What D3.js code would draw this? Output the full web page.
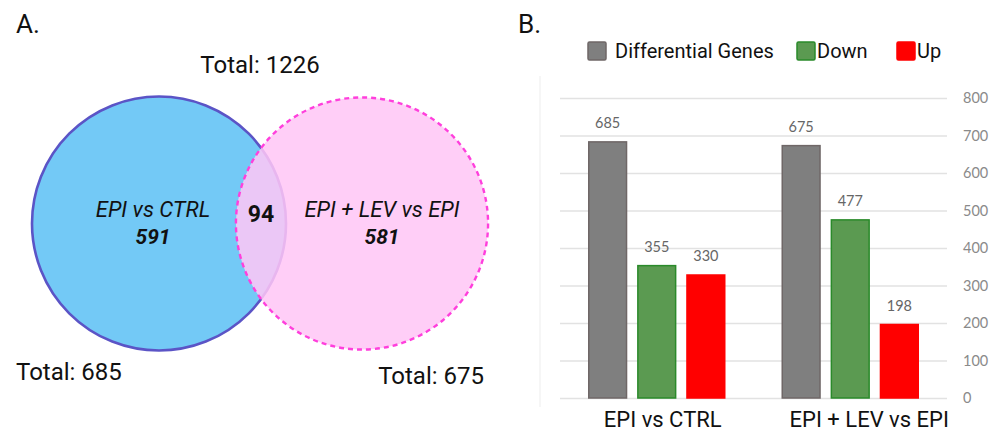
<!DOCTYPE html>
<html>
<head>
<meta charset="utf-8">
<script src="https://cdn.jsdelivr.net/npm/d3@7"></script>
<style>
  html, body { margin: 0; padding: 0; background: #fff; }
  svg { display: block; }
</style>
</head>
<body>
<svg id="fig" width="1000" height="435"></svg>
<script>
// ---- Venn panel data ----
const vennSets = ["EPI vs CTRL", "EPI + LEV vs EPI"];
const vennUnique = [591, 581];
const vennShared = 94;
const vennTotals = [685, 675];
const vennUnion = 1226;

// ---- Bar panel data ----
const categories = ["EPI vs CTRL", "EPI + LEV vs EPI"];
const seriesNames = ["Differential Genes", "Down", "Up"];
const differential = [685, 675];
const down = [355, 477];
const up = [330, 198];
const yTicks = [0, 100, 200, 300, 400, 500, 600, 700, 800];

(function () {
const svg = d3.select("#fig");
const sans = "Roboto, 'Noto Sans', sans-serif";
const calib = "Lato, 'Open Sans', sans-serif";

// ================= Panel A: Venn =================
const gA = svg.append("g");
gA.append("text").attr("x", 16).attr("y", 33).text("A.")
  .attr("font-family", sans).attr("font-size", 26).attr("fill", "#111");

// circle radius follows the set size (area-proportional)
const rScale = d3.scaleSqrt().domain([0, 685]).range([0, 127]);
const cy = 223.5;
const cx = d3.scaleLinear().domain([0, 1]).range([159, 362]);

gA.append("circle")
  .attr("cx", cx(0)).attr("cy", cy).attr("r", rScale(vennTotals[0]))
  .attr("fill", "#73c9f6").attr("stroke", "#5b54c6").attr("stroke-width", 2.6);

gA.append("circle")
  .attr("cx", cx(1)).attr("cy", cy).attr("r", rScale(vennTotals[1]))
  .attr("fill", "#ffc6f6").attr("fill-opacity", 0.86)
  .attr("stroke", "#ff3fdc").attr("stroke-width", 2.4)
  .attr("stroke-dasharray", "5,4");

gA.append("text").attr("x", 260).attr("y", 73).attr("text-anchor", "middle")
  .attr("font-family", sans).attr("font-size", 24).attr("fill", "#111")
  .text("Total: " + vennUnion);

gA.append("text").attr("x", 16).attr("y", 380)
  .attr("font-family", sans).attr("font-size", 24).attr("fill", "#111")
  .text("Total: " + vennTotals[0]);
gA.append("text").attr("x", 484).attr("y", 384).attr("text-anchor", "end")
  .attr("font-family", sans).attr("font-size", 24).attr("fill", "#111")
  .text("Total: " + vennTotals[1]);

const setLabelX = [153, 382];
vennSets.forEach((s, i) => {
  gA.append("text").attr("x", setLabelX[i]).attr("y", 217).attr("text-anchor", "middle")
    .attr("font-family", sans).attr("font-size", 22).attr("font-style", "italic")
    .attr("fill", "#111").text(s);
  gA.append("text").attr("x", setLabelX[i]).attr("y", 244).attr("text-anchor", "middle")
    .attr("font-family", sans).attr("font-size", 21).attr("font-style", "italic")
    .attr("font-weight", "bold").attr("fill", "#111").text(vennUnique[i]);
});
gA.append("text").attr("x", 261).attr("y", 222).attr("text-anchor", "middle")
  .attr("font-family", sans).attr("font-size", 23).attr("font-weight", "bold")
  .attr("fill", "#111").text(vennShared);

// ================= Panel B: grouped bars =================
const gB = svg.append("g");
gB.append("text").attr("x", 518).attr("y", 33).text("B.")
  .attr("font-family", sans).attr("font-size", 26).attr("fill", "#111");

const plotL = 560, plotR = 947, plotT = 98, plotB = 398;
const y = d3.scaleLinear().domain([0, 800]).range([plotB, plotT]);
const x0 = d3.scaleBand().domain(categories).range([plotL, plotR]).paddingInner(0).paddingOuter(0);
const x1 = d3.scaleBand().domain(seriesNames).range([28, x0.bandwidth() - 28]).paddingInner(0.2);

const fills = { "Differential Genes": "#7f7f7f", "Down": "#5b9a51", "Up": "#ff0000" };
const strokes = { "Differential Genes": "#6f6767", "Down": "#2a8a2a", "Up": "#ff0000" };

// faint frame line on the left of the plot
gB.append("line").attr("x1", 540).attr("x2", 540).attr("y1", 76).attr("y2", 407)
  .attr("stroke", "#f3f3f3").attr("stroke-width", 1.5);

// gridlines + right axis labels
const axis = d3.axisRight(y).tickValues(yTicks).tickSize(-(plotR - plotL)).tickPadding(16);
const ax = gB.append("g").attr("transform", `translate(${plotR},0)`).call(axis);
ax.select(".domain").remove();
ax.selectAll(".tick line").attr("stroke", "#e2e2e2").attr("stroke-width", 1.5);
ax.selectAll(".tick text").attr("font-family", calib).attr("font-size", 14.5)
  .attr("fill", "#8a8a8a").attr("text-anchor", "start");

const rows = categories.map((c, i) => ({
  cat: c,
  vals: [
    { key: "Differential Genes", v: differential[i] },
    { key: "Down", v: down[i] },
    { key: "Up", v: up[i] }
  ]
}));

const grp = gB.selectAll("g.grp").data(rows).join("g").attr("class", "grp")
  .attr("transform", d => `translate(${x0(d.cat)},0)`);

grp.selectAll("rect").data(d => d.vals).join("rect")
  .attr("x", d => x1(d.key) + 0.75)
  .attr("width", x1.bandwidth() - 1.5)
  .attr("y", d => y(d.v) + 0.75)
  .attr("height", d => y(0) - y(d.v) - 0.75)
  .attr("fill", d => fills[d.key])
  .attr("stroke", d => strokes[d.key])
  .attr("stroke-width", 1.5);

grp.selectAll("text.val").data(d => d.vals).join("text").attr("class", "val")
  .attr("x", d => x1(d.key) + x1.bandwidth() / 2)
  .attr("y", d => y(d.v) - 13)
  .attr("text-anchor", "middle")
  .attr("font-family", calib).attr("font-size", 14.5).attr("fill", "#666")
  .text(d => d.v);

// category labels (nudged right of the band centre)
const catNudge = [6, 19];
gB.selectAll("text.cat").data(categories).join("text").attr("class", "cat")
  .attr("x", (d, i) => x0(d) + x0.bandwidth() / 2 + catNudge[i])
  .attr("y", 427)
  .attr("text-anchor", "middle")
  .attr("font-family", sans).attr("font-size", 22).attr("fill", "#111")
  .text(d => d);

// legend
const legendX = [588, 797, 897];
const lg = gB.selectAll("g.lg").data(seriesNames).join("g").attr("class", "lg")
  .attr("transform", (d, i) => `translate(${legendX[i]},42)`);
lg.append("rect").attr("width", 18).attr("height", 18).attr("rx", 1.5)
  .attr("fill", d => fills[d]).attr("stroke", d => strokes[d]).attr("stroke-width", 1.5);
lg.append("text").attr("x", (d, i) => i === 0 ? 27 : 20).attr("y", 16)
  .attr("font-family", sans).attr("font-size", 20).attr("fill", "#111")
  .text(d => d);
})();
</script>
</body>
</html>
